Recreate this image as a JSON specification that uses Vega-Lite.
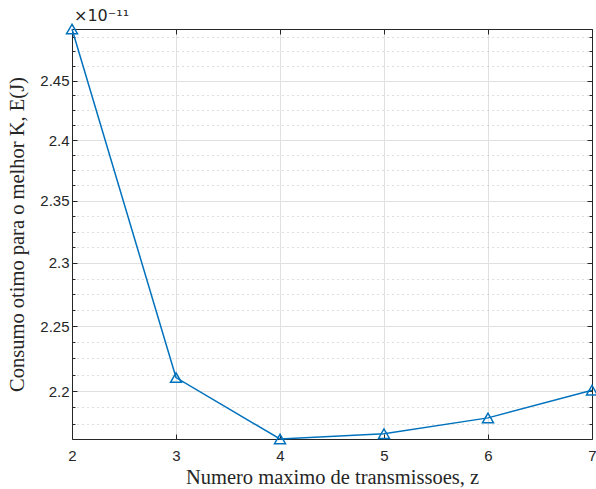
{
  "$schema": "https://vega.github.io/schema/vega-lite/v6.json",
  "autosize": {"type": "none"},
  "padding": {"left": 72, "top": 29, "right": 4, "bottom": 50},
  "width": 520,
  "height": 410,
  "background": "white",
  "config": {
    "view": {"stroke": null},
    "axis": {
      "domainColor": "#262626",
      "domainWidth": 1,
      "tickColor": "#262626",
      "tickWidth": 1,
      "labelColor": "#262626",
      "labelFont": "Liberation Sans",
      "labelFontSize": 15,
      "titleFont": "Liberation Serif",
      "titleFontSize": 20.5,
      "titleFontWeight": "normal",
      "titleColor": "#262626",
      "labelFlush": false,
      "labelBound": false,
      "labelOverlap": false
    }
  },
  "title": {
    "text": "×10⁻¹¹",
    "anchor": "start",
    "frame": "group",
    "offset": 3,
    "dx": 2,
    "dy": 6,
    "font": "DejaVu Sans",
    "fontSize": 16,
    "fontWeight": "normal",
    "color": "#262626"
  },
  "data": {
    "values": [
      {"z": 2, "E": 2.4942},
      {"z": 3, "E": 2.2103},
      {"z": 4, "E": 2.1637},
      {"z": 5, "E": 2.1677},
      {"z": 6, "E": 2.1796},
      {"z": 7, "E": 2.2006}
    ]
  },
  "layer": [
    {
      "mark": {
        "type": "line",
        "color": "#0072BD",
        "strokeWidth": 1.5,
        "point": {"shape": "triangle-up", "filled": false, "size": 120, "strokeWidth": 1.5, "color": "#0072BD"}
      },
      "encoding": {
        "x": {
          "field": "z",
          "type": "quantitative",
          "scale": {"domain": [2, 7], "nice": false, "zero": false},
          "axis": {
            "orient": "bottom",
            "values": [2, 3, 4, 5, 6, 7],
            "format": "d",
            "title": "Numero maximo de transmissoes, z",
            "grid": true,
            "gridColor": "#e0e0e0",
            "gridWidth": 1,
            "tickSize": -5,
            "labelPadding": 14,
            "titlePadding": 4
          }
        },
        "y": {
          "field": "E",
          "type": "quantitative",
          "scale": {"type": "log", "domain": [2.1637, 2.4942], "nice": false, "zero": false},
          "axis": {
            "orient": "left",
            "values": [2.175, 2.1875, 2.2, 2.2125, 2.225, 2.2375, 2.25, 2.2625, 2.275, 2.2875, 2.3, 2.3125, 2.325, 2.3375, 2.35, 2.3625, 2.375, 2.3875, 2.4, 2.4125, 2.425, 2.4375, 2.45, 2.4625, 2.475, 2.4875],
            "labelExpr": "abs(datum.value*20 - round(datum.value*20)) < 0.001 ? format(datum.value, '.3~g') : ''",
            "title": "Consumo otimo para o melhor K, E(J)",
            "grid": true,
            "gridDash": {"condition": {"test": "abs(datum.value*20 - round(datum.value*20)) < 0.001", "value": []}, "value": [1, 4]},
            "gridColor": {"condition": {"test": "abs(datum.value*20 - round(datum.value*20)) < 0.001", "value": "#e0e0e0"}, "value": "#bcbcbc"},
            "tickSize": {"condition": {"test": "abs(datum.value*20 - round(datum.value*20)) < 0.001", "value": -5}, "value": -3},
            "labelPadding": 8,
            "titlePadding": 12
          }
        }
      }
    },
    {
      "mark": {"type": "point", "opacity": 0},
      "encoding": {
        "x": {
          "field": "z",
          "type": "quantitative",
          "axis": {
            "orient": "top",
            "values": [2, 3, 4, 5, 6, 7],
            "labels": false,
            "title": null,
            "grid": false,
            "tickSize": -5
          }
        },
        "y": {
          "field": "E",
          "type": "quantitative",
          "axis": {
            "orient": "right",
            "values": [2.175, 2.1875, 2.2, 2.2125, 2.225, 2.2375, 2.25, 2.2625, 2.275, 2.2875, 2.3, 2.3125, 2.325, 2.3375, 2.35, 2.3625, 2.375, 2.3875, 2.4, 2.4125, 2.425, 2.4375, 2.45, 2.4625, 2.475, 2.4875],
            "labels": false,
            "title": null,
            "grid": false,
            "tickSize": {"condition": {"test": "abs(datum.value*20 - round(datum.value*20)) < 0.001", "value": -5}, "value": -3}
          }
        }
      }
    }
  ],
  "resolve": {"axis": {"x": "independent", "y": "independent"}}
}
